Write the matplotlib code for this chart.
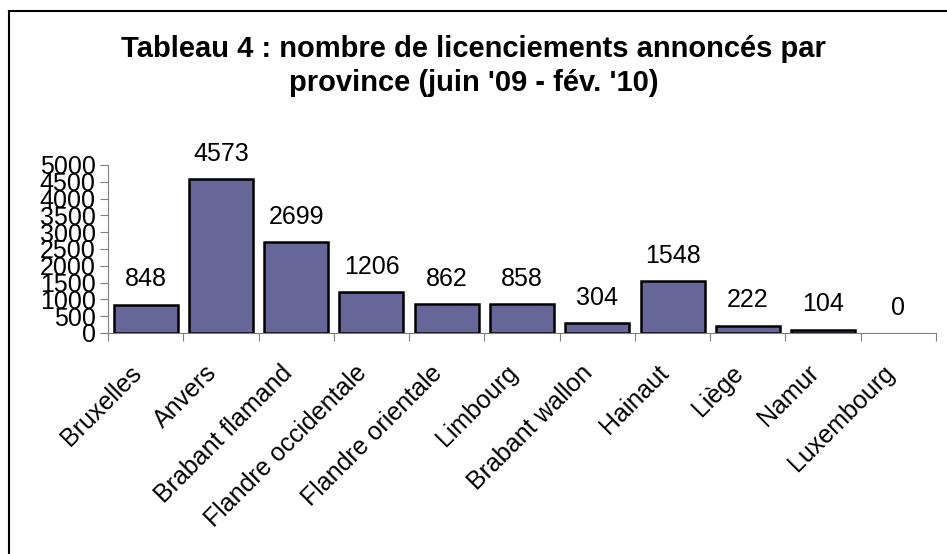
import numpy as np
import matplotlib.pyplot as plt
from matplotlib.lines import Line2D
from matplotlib.transforms import ScaledTranslation

plt.rcParams['font.family'] = ['Liberation Sans', 'DejaVu Sans']

provinces = ['Bruxelles', 'Anvers', 'Brabant flamand', 'Flandre occidentale',
             'Flandre orientale', 'Limbourg', 'Brabant wallon', 'Hainaut',
             'Liège', 'Namur', 'Luxembourg']
licenciements = [848, 4573, 2699, 1206, 862, 858, 304, 1548, 222, 104, 0]
yticks = [0, 500, 1000, 1500, 2000, 2500, 3000, 3500, 4000, 4500, 5000]

W, H = 947, 554
fig = plt.figure(figsize=(W/100, H/100), dpi=100)
ax = fig.add_axes([108/W, 1-333/H, (936-108)/W, (333-165)/H])

x = np.arange(len(provinces))
# an empty bar (value 0) gets no outline, as in the original
edges = ['black' if v > 0 else 'none' for v in licenciements]
ax.bar(x, licenciements, width=0.85, color='#666699', edgecolor=edges, linewidth=1.8)
for xi, v in zip(x, licenciements):
    ax.annotate(str(v), (xi, v), xytext=(0, 13), textcoords='offset points',
                ha='center', va='baseline', fontsize=18)

ax.set_xlim(-0.5, len(provinces)-0.5)
ax.set_ylim(0, 5000)
ax.set_yticks(yticks)
ax.set_yticklabels([str(t) for t in yticks], fontsize=18)
ax.tick_params(axis='y', length=6, color='#808080', pad=3)

# ticks between categories, labels centred on bars
ax.set_xticks(np.arange(len(provinces)+1) - 0.5)
ax.set_xticklabels([])
ax.set_xticks(x, minor=True)
ax.set_xticklabels(provinces, minor=True, rotation=45, ha='right', va='center',
                   rotation_mode='anchor', fontsize=18)
ax.tick_params(axis='x', which='major', length=6, color='#808080')
ax.tick_params(axis='x', which='minor', length=0, pad=26)
shift = ScaledTranslation(-8/100, 0, fig.dpi_scale_trans)
for lab in ax.get_xticklabels(minor=True):
    lab.set_transform(lab.get_transform() + shift)

for s in ['top', 'right']:
    ax.spines[s].set_visible(False)
for s in ['left', 'bottom']:
    ax.spines[s].set_color('#808080')

fig.text(0.5, 1-57/H, "Tableau 4 : nombre de licenciements annoncés par",
         ha='center', va='baseline', fontsize=21, fontweight='bold')
fig.text(0.5, 1-91/H, "province (juin '09 - fév. '10)",
         ha='center', va='baseline', fontsize=21, fontweight='bold')

# chart frame (cut at the right and bottom)
fig.add_artist(Line2D([8.5/W, 8.5/W], [0, 1-11/H], color='black', lw=1.5))
fig.add_artist(Line2D([8.5/W, 1], [1-11/H, 1-11/H], color='black', lw=1.5))

fig.savefig('out.png', dpi=100)
